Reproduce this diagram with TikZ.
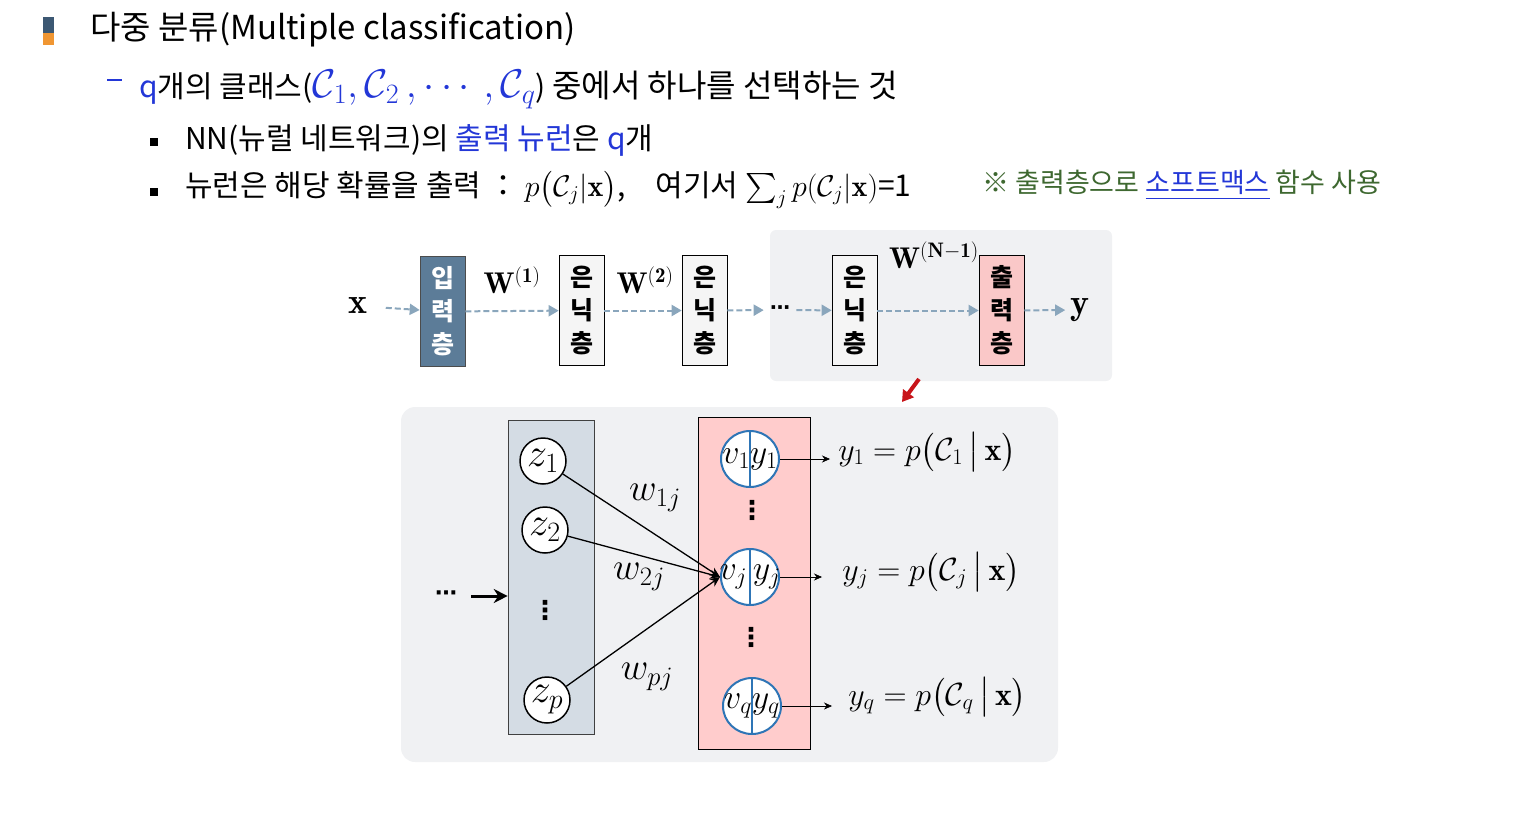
\RequirePackage{fix-cm}
\documentclass[tikz,border=0pt]{standalone}
\usepackage{amsmath}
\usepackage{amssymb}
\usepackage{xcolor}
\usepackage{fontspec}
\usetikzlibrary{arrows,arrows.meta,positioning,shapes.geometric}
\newfontfamily\krfont{Noto Sans CJK KR}
\newfontfamily\symfont{DejaVu Sans}

\definecolor{txtblue}{RGB}{35,55,215}
\definecolor{notegreen}{RGB}{62,104,48}
\definecolor{flowgray}{RGB}{138,166,188}
\definecolor{inpfill}{RGB}{92,124,152}
\definecolor{bggray}{RGB}{240,241,243}
\definecolor{outpink}{RGB}{250,200,200}
\definecolor{boxpink}{RGB}{255,204,204}
\definecolor{zfill}{RGB}{212,220,228}
\definecolor{ringblue}{RGB}{46,117,182}
\definecolor{barblue}{RGB}{60,88,115}
\definecolor{barorange}{RGB}{240,150,50}
\definecolor{arrowred}{RGB}{200,20,25}

\begin{document}
\begin{tikzpicture}[x=1pt,y=-1pt,>=stealth',semithick,
    txt/.style={anchor=west, inner sep=0pt, font=\krfont\fontsize{#1}{#1}\selectfont},
    lbl/.style={inner sep=0pt, font=\fontsize{#1}{#1}\selectfont},
    dotlbl/.style={inner sep=0pt, font=\symfont\bfseries\fontsize{#1}{#1}\selectfont},
    layer/.style={rectangle, draw=black, fill=gray!8, minimum width=45, minimum height=110,
                  inner sep=0pt, align=center, font=\krfont\bfseries\fontsize{25}{33}\selectfont},
    flow/.style={dash pattern=on 6pt off 3pt, line width=2pt, draw=flowgray,
                 -{Triangle[length=10pt,width=11pt]}},
    unit/.style={circle, draw=black, line width=1.5pt, fill=white, minimum size=46, inner sep=0pt,
                 label={[font=\fontsize{40}{40}\selectfont, inner sep=0pt]center:#1}},
    splitunit/.style={ellipse, draw=ringblue, line width=2pt, fill=white, minimum width=58,
                      minimum height=56, inner sep=0pt,
                      path picture={\draw[ringblue, line width=1.5pt]
                        (path picture bounding box.north) -- (path picture bounding box.south);},
                      label={[font=\fontsize{34}{34}\selectfont, inner sep=0pt]center:#1}},
    link/.style={line width=1.3pt, -{Stealth[length=10pt,width=9pt]}},
    outarrow/.style={-{Stealth[length=8pt,width=7pt]}}]
  \useasboundingbox (0,0) rectangle (1521,825);

  % header
  \fill[barblue] (43,17) rectangle (54,33);
  \fill[barorange] (43,33) rectangle (54,45);
  \node[txt=33] (title) at (90,30) {다중 분류(Multiple classification)};
  \node[fill=txtblue, minimum width=15, minimum height=2, inner sep=0pt] (dash2) at (114,80) {};
  \node[txt=30] (line2) at (139,90)
    {{\color{txtblue}q}개의 클래스({\fontsize{40}{40}\selectfont$\color{txtblue}\mathcal{C}_1,\mathcal{C}_2\,,\cdots,\mathcal{C}_q$}) {\fontsize{32}{32}\selectfont 중에서 하나를 선택하는 것}};
  \node[fill=black, minimum size=8, inner sep=0pt] (sq3) at (154,142) {};
  \node[txt=30] (line3) at (185,140)
    {NN(뉴럴 네트워크)의 {\color{txtblue}출력 뉴런}은 {\color{txtblue}q}개};
  \node[fill=black, minimum size=8, inner sep=0pt] (sq4) at (154,192) {};
  \node[txt=30] (line4) at (185,190)
    {뉴런은 해당 확률을 출력 ： $p\big(\mathcal{C}_j|\mathbf{x}\big)$,\hspace{30pt}여기서 $\sum_j p(\mathcal{C}_j|\mathbf{x})$=1};
  \node[txt=27, text=notegreen] (note) at (982,185)
    {※ 출력층으로 {\color{txtblue}\underline{소프트맥스}} 함수 사용};

  % top: layers
  \fill[bggray, rounded corners=6] (770,230) rectangle (1112,381);
  \node[lbl=36] (x) at (358,306) {$\mathbf{x}$};
  \node[layer, fill=inpfill, draw=black!70, text=white] (inp) at (442.5,311.5) {입\\력\\층};
  \node[layer] (h1) at (581.5,310.5) {은\\닉\\층};
  \node[layer] (h2) at (704.5,310.5) {은\\닉\\층};
  \node[dotlbl=20] (dots) at (780,310) {⋯};
  \node[layer] (h3) at (854.5,310.5) {은\\닉\\층};
  \node[layer, fill=outpink] (out) at (1001.5,310.5) {출\\력\\층};
  \node[lbl=36] (y) at (1080,310) {$\mathbf{y}$};
  \node[lbl=30] (w1) at (512,280) {$\mathbf{W}^{(\mathbf{1})}$};
  \node[lbl=30] (w2) at (645,280) {$\mathbf{W}^{(\mathbf{2})}$};
  \node[lbl=30] (wn) at (934,255) {$\mathbf{W}^{(\mathbf{N-1})}$};

  \draw[flow, shorten <=18pt] (x) -- (inp);
  \draw[flow] (inp) -- (h1);
  \draw[flow] (h1) -- (h2);
  \draw[flow, shorten >=6pt] (h2) -- (dots);
  \draw[flow, shorten <=6pt] (dots) -- (h3);
  \draw[flow] (h3) -- (out);
  \draw[flow, shorten >=5pt] (out) -- (y);

  \coordinate (redA) at (919,379);
  \coordinate (redB) at (902,402);
  \draw[arrowred, line width=4pt, -{Triangle[length=11pt,width=13pt]}] (redA) -- (redB);

  % bottom: zoom on output layer
  \fill[bggray, rounded corners=14] (401,407) rectangle (1058,762);
  \node[draw=black!75, fill=zfill, minimum width=86, minimum height=314, inner sep=0pt] (zbox) at (551,577) {};
  \node[draw=black, fill=boxpink, minimum width=112, minimum height=332, inner sep=0pt] (obox) at (754,583) {};
  \node[dotlbl=22] (ldots) at (446,596) {⋯};
  \draw[line width=3pt, -{Stealth[length=14pt,width=14pt]}, shorten <=14pt] (ldots) -- (ldots -| zbox.west);

  \node[unit={$z_1$}] (z1) at (543,461) {};
  \node[unit={$z_2$}] (z2) at (545,530) {};
  \node[dotlbl=26] (zdots) at (545,610) {⋮};
  \node[unit={$z_p$}] (zp) at (547,700) {};

  \node[splitunit={$v_1y_1$}] (v1) at (750,459) {};
  \node[dotlbl=26] (vdots1) at (752,510) {⋮};
  \node[splitunit={$v_j\,y_j$}] (vj) at (750,577) {};
  \node[dotlbl=26] (vdots2) at (751,637) {⋮};
  \node[splitunit={$v_qy_q$}] (vq) at (752,706) {};

  \draw[link] (z1) -- (vj.west);
  \draw[link] (z2) -- (vj.west);
  \draw[link] (zp) -- (vj.west);
  \node[lbl=38] (l1j) at (655,498) {$w_{1j}$};
  \node[lbl=38] (l2j) at (639,577) {$w_{2j}$};
  \node[lbl=38] (lpj) at (647,677) {$w_{pj}$};

  \node[lbl=32, anchor=west] (o1) at (838,452) {$y_1 = p\big(\mathcal{C}_1\,\big|\,\mathbf{x}\big)$};
  \node[lbl=32, anchor=west] (oj) at (842,572) {$y_j = p\big(\mathcal{C}_j\,\big|\,\mathbf{x}\big)$};
  \node[lbl=32, anchor=west] (oq) at (848,697) {$y_q = p\big(\mathcal{C}_q\,\big|\,\mathbf{x}\big)$};
  \draw[outarrow, shorten >=8pt] (v1.east) -- (v1.east -| o1.west);
  \draw[outarrow, shorten >=20pt] (vj.east) -- (vj.east -| oj.west);
  \draw[outarrow, shorten >=16pt] (vq.east) -- (vq.east -| oq.west);
\end{tikzpicture}
\end{document}
